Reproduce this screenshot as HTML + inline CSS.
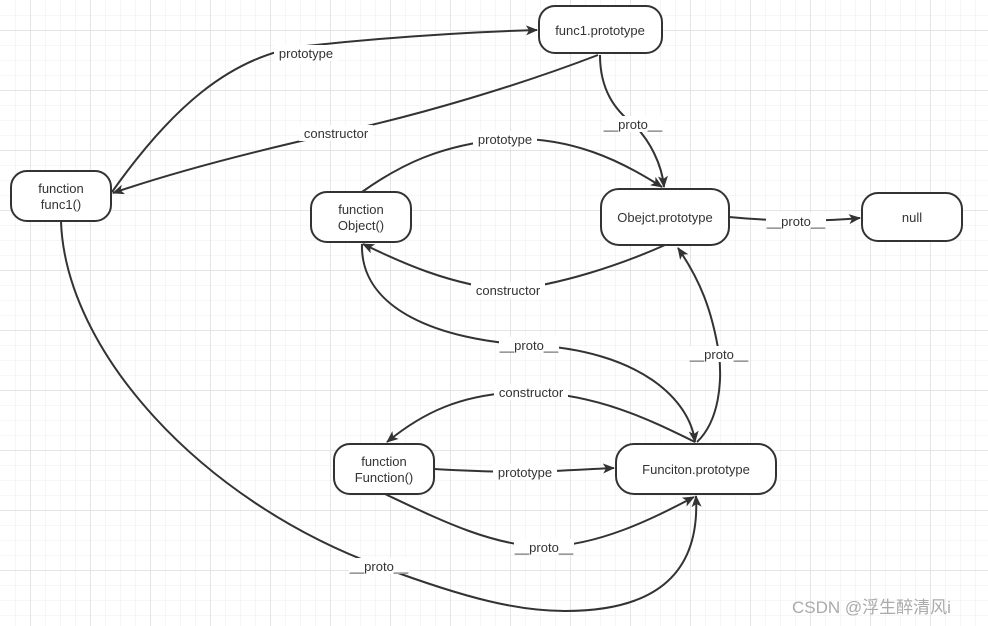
<!DOCTYPE html>
<html><head><meta charset="utf-8"><style>
html,body{margin:0;padding:0;width:988px;height:626px;overflow:hidden;background:#fff}
svg{display:block}
text{font-family:"Liberation Sans","Noto Sans CJK SC",sans-serif;font-size:13px;fill:#333}
.n{fill:#fff;stroke:#333;stroke-width:2}
.e{fill:none;stroke:#333;stroke-width:2}
.lb{fill:#fff}
</style></head><body>
<svg width="988" height="626" viewBox="0 0 988 626">
<defs>
<pattern id="g1" width="15" height="15" patternUnits="userSpaceOnUse"><path d="M15 0V15M0 15H15" stroke="#ececec" stroke-width="1" fill="none"/></pattern>
<pattern id="g2" x="30.5" y="30.5" width="60" height="60" patternUnits="userSpaceOnUse"><path d="M0 0V60M0 0H60" stroke="#dedede" stroke-width="1" fill="none"/></pattern>
<marker id="a" markerWidth="12" markerHeight="10" refX="11" refY="5" orient="auto" markerUnits="userSpaceOnUse"><path d="M0,0 L12,5 L0,10 L3,5z" fill="#333"/></marker>
</defs>
<rect width="988" height="626" fill="url(#g1)" transform="translate(0.5,0.5)"/>
<rect width="988" height="626" fill="url(#g2)"/>

<!-- edges -->
<path class="e" marker-end="url(#a)" d="M112,192 C170,110 230,55 306,46 C400,36 470,32 537,30"/>
<path class="e" marker-end="url(#a)" d="M598,55 C520,85 420,115 336,133 C260,150 180,170 113,193"/>
<path class="e" marker-end="url(#a)" d="M600,55 C600,90 615,110 633,124 C650,140 662,165 664,187"/>
<path class="e" marker-end="url(#a)" d="M362,192 C400,165 440,145 505,139 C570,136 620,160 662,187"/>
<path class="e" marker-end="url(#a)" d="M729,217 C770,221 820,222 860,218"/>
<path class="e" marker-end="url(#a)" d="M665,245 C620,265 560,285 508,290 C450,285 400,262 363,244"/>
<path class="e" marker-end="url(#a)" d="M362,244 C360,310 440,340 529,345 C640,350 690,400 695,442"/>
<path class="e" marker-end="url(#a)" d="M697,442 C720,420 722,380 719,354 C712,310 700,280 678,248"/>
<path class="e" marker-end="url(#a)" d="M695,442 C650,420 600,395 531,392 C460,392 420,415 387,442"/>
<path class="e" marker-end="url(#a)" d="M434,469 C470,471 500,472 525,472 C560,471 590,469 614,468"/>
<path class="e" marker-end="url(#a)" d="M385,494 C440,520 490,545 544,547 C600,545 650,520 694,497"/>
<path class="e" marker-end="url(#a)" d="M61,221 C65,350 200,500 379,566 C470,600 520,611 565,611 C660,611 700,570 696,496"/>

<!-- labels -->
<rect class="lb" x="274" y="45" width="64" height="16"/><text x="306" y="58" text-anchor="middle">prototype</text>
<rect class="lb" x="299" y="125" width="74" height="16"/><text x="336" y="138" text-anchor="middle">constructor</text>
<rect class="lb" x="603" y="116" width="60" height="16"/><text x="633" y="129" text-anchor="middle">__proto__</text>
<rect class="lb" x="473" y="131" width="64" height="16"/><text x="505" y="144" text-anchor="middle">prototype</text>
<rect class="lb" x="766" y="213" width="60" height="16"/><text x="796" y="226" text-anchor="middle">__proto__</text>
<rect class="lb" x="471" y="282" width="74" height="16"/><text x="508" y="295" text-anchor="middle">constructor</text>
<rect class="lb" x="499" y="337" width="60" height="16"/><text x="529" y="350" text-anchor="middle">__proto__</text>
<rect class="lb" x="689" y="346" width="60" height="16"/><text x="719" y="359" text-anchor="middle">__proto__</text>
<rect class="lb" x="494" y="384" width="74" height="16"/><text x="531" y="397" text-anchor="middle">constructor</text>
<rect class="lb" x="493" y="464" width="64" height="16"/><text x="525" y="477" text-anchor="middle">prototype</text>
<rect class="lb" x="514" y="539" width="60" height="16"/><text x="544" y="552" text-anchor="middle">__proto__</text>
<rect class="lb" x="349" y="558" width="60" height="16"/><text x="379" y="571" text-anchor="middle">__proto__</text>

<!-- nodes -->
<rect class="n" x="539" y="6" width="123" height="47" rx="16"/><text x="600" y="35" text-anchor="middle">func1.prototype</text>
<rect class="n" x="11" y="171" width="100" height="50" rx="16"/><text x="61" y="193" text-anchor="middle">function</text><text x="61" y="209" text-anchor="middle">func1()</text>
<rect class="n" x="311" y="192" width="100" height="50" rx="16"/><text x="361" y="214" text-anchor="middle">function</text><text x="361" y="230" text-anchor="middle">Object()</text>
<rect class="n" x="601" y="189" width="128" height="56" rx="18"/><text x="665" y="222" text-anchor="middle">Obejct.prototype</text>
<rect class="n" x="862" y="193" width="100" height="48" rx="16"/><text x="912" y="222" text-anchor="middle">null</text>
<rect class="n" x="334" y="444" width="100" height="50" rx="16"/><text x="384" y="466" text-anchor="middle">function</text><text x="384" y="482" text-anchor="middle">Function()</text>
<rect class="n" x="616" y="444" width="160" height="50" rx="18"/><text x="696" y="474" text-anchor="middle">Funciton.prototype</text>

<text x="792" y="613" style="font-size:17px;fill:#aaa">CSDN @浮生醉清风i</text>
</svg>
</body></html>
